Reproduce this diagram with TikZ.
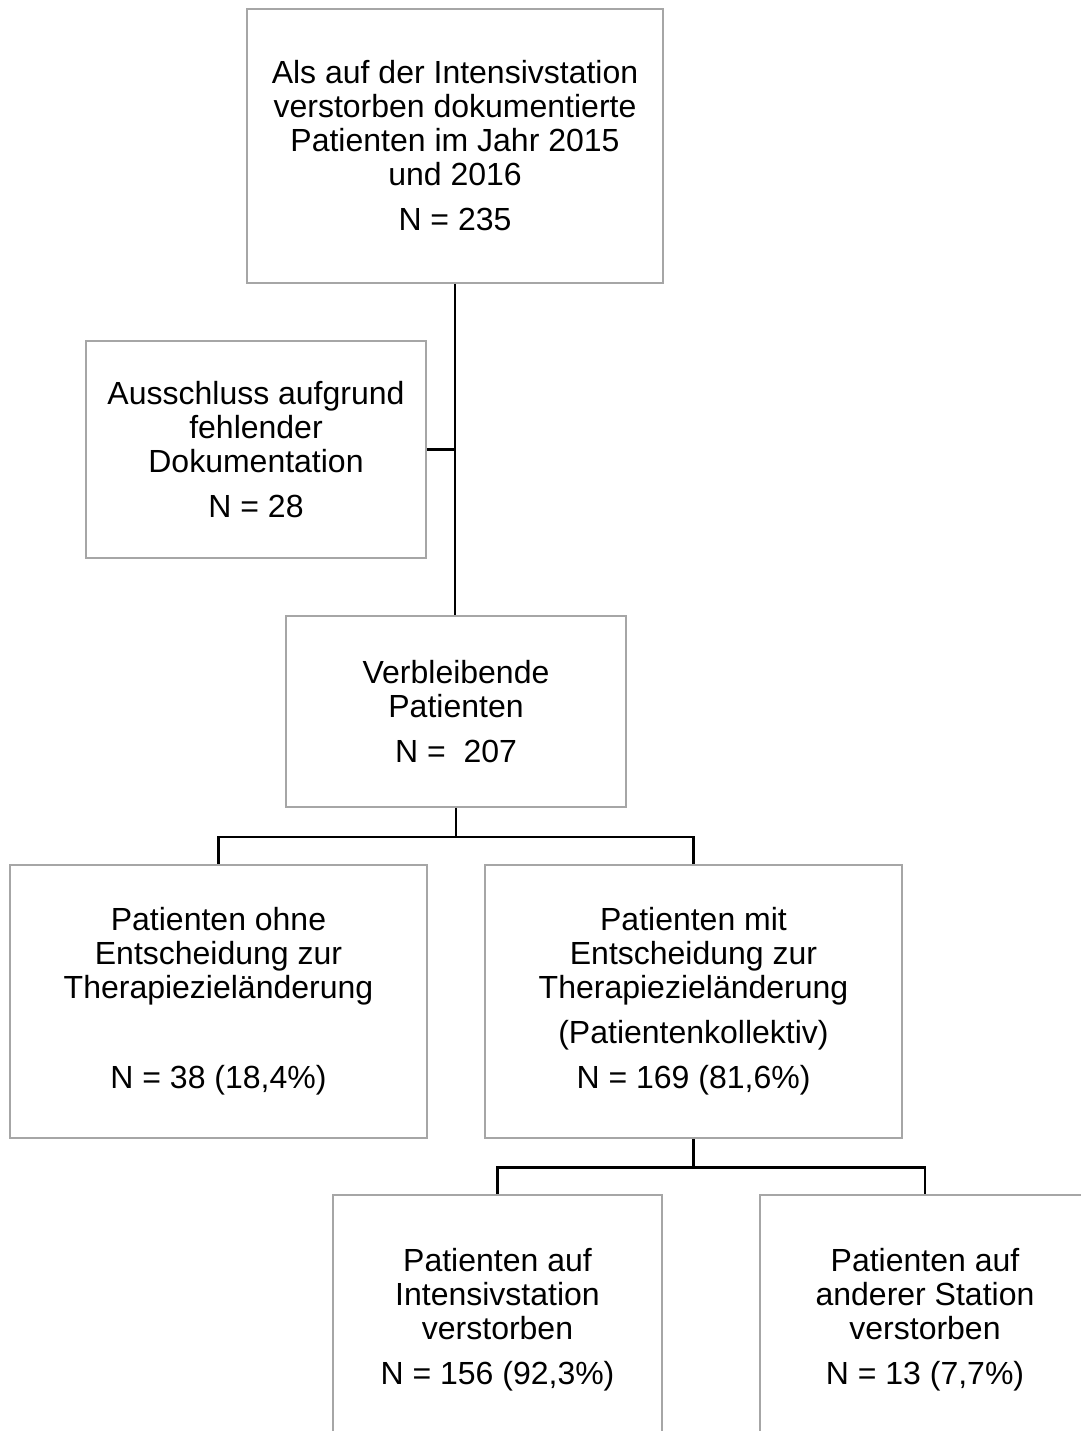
\documentclass[tikz,border=0pt]{standalone}
\usepackage{fontspec}
\setmainfont{Liberation Sans}
\begin{document}
\begin{tikzpicture}[x=0.5pt,y=-0.5pt,
	box/.style={draw=gray!70,line width=0.8pt,align=center,inner sep=0pt,
		font=\fontsize{16}{17}\selectfont},
	link/.style={line width=1.2pt}]
\useasboundingbox (0,0) rectangle (1081,1431);
\def\gap{\\[5.5pt]}
% boxes
\node[box,minimum width=208pt,minimum height=137pt] (all) at (455,146)
	{Als auf der Intensivstation\\verstorben dokumentierte\\Patienten im Jahr 2015\\und 2016\gap N = 235};
\node[box,minimum width=170pt,minimum height=108.5pt] (excl) at (256,449.5)
	{Ausschluss aufgrund\\fehlender\\Dokumentation\gap N = 28};
\node[box,minimum width=170pt,minimum height=95.5pt] (rest) at (456,711.5)
	{Verbleibende\\Patienten\gap N = \ 207};
\node[box,minimum width=208.5pt,minimum height=136.5pt] (ohne) at (218.5,1001.5)
	{Patienten ohne\\Entscheidung zur\\Therapiezieländerung\\[28pt]N = 38 (18,4\%)};
\node[box,minimum width=208.5pt,minimum height=136.5pt] (mit) at (693.5,1001.5)
	{Patienten mit\\Entscheidung zur\\Therapiezieländerung\gap(Patientenkollektiv)\gap N = 169 (81,6\%)};
\node[box,minimum width=164.5pt,minimum height=125pt] (icu) at (497.5,1320)
	{Patienten auf\\Intensivstation\\verstorben\gap N = 156 (92,3\%)};
\node[box,minimum width=165pt,minimum height=125pt] (ward) at (925,1320)
	{Patienten auf\\anderer Station\\verstorben\gap N = 13 (7,7\%)};
% connectors
\draw[link] (all.south) -- (all.south |- rest.north);
\draw[link] (excl.east) -- (excl.east -| all.south);
\draw[link] (rest.south) -- ++(0,29) -| (ohne.north);
\draw[link] (rest.south) ++(0,29) -| (mit.north);
\draw[link] (mit.south) -- ++(0,28.5) -| (icu.north);
\draw[link] (mit.south) ++(0,28.5) -| (ward.north);
\end{tikzpicture}
\end{document}
